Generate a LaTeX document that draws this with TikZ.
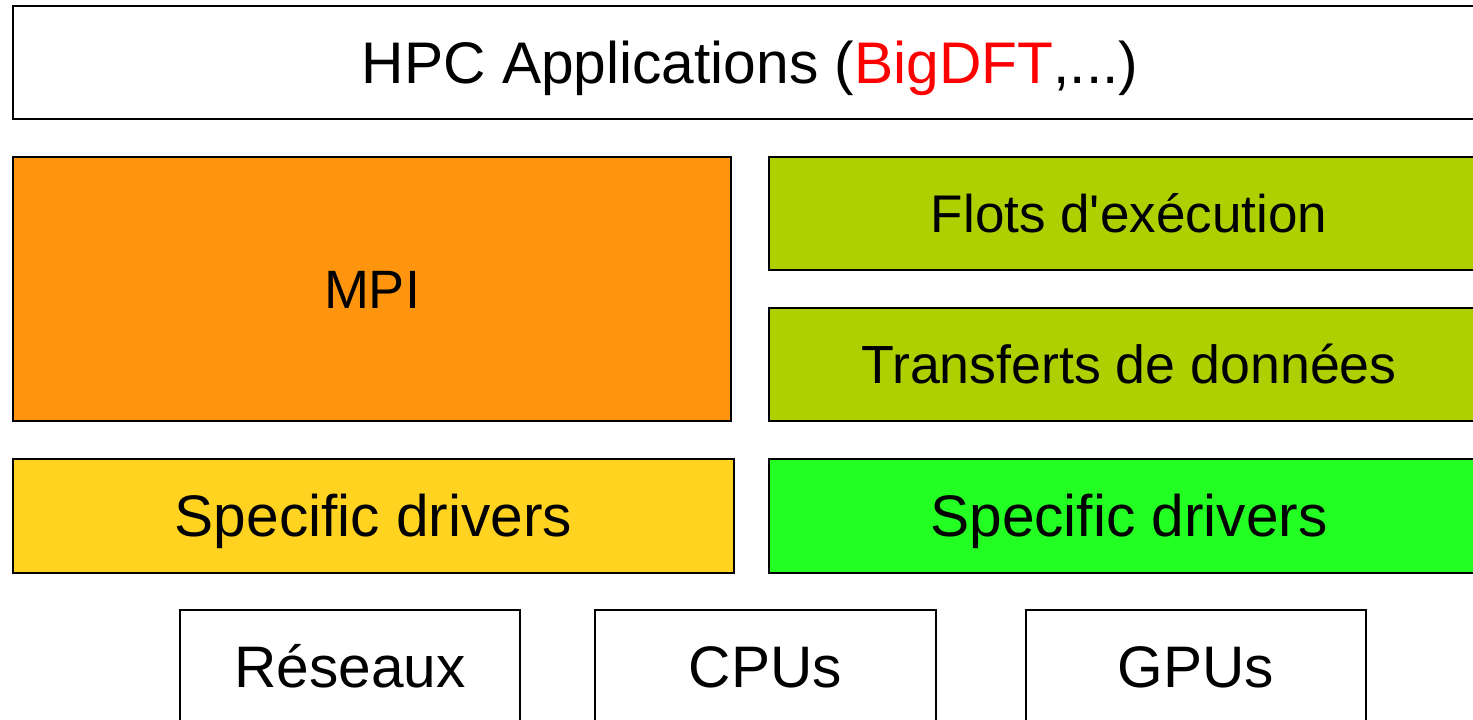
\documentclass[tikz,border=0pt]{standalone}
\usepackage{fontspec}
\setmainfont{Liberation Sans}
\definecolor{mpiorange}{HTML}{FF950E}
\definecolor{olivegreen}{HTML}{AECF00}
\definecolor{drvyellow}{HTML}{FFD320}
\definecolor{drvgreen}{HTML}{23FF23}
\definecolor{bigred}{HTML}{FF0000}
\tikzset{
  layer/.style={draw=black, line width=1.1pt, inner sep=0pt, outer sep=0pt,
    font=\fontsize{#1}{#1}\selectfont, text height={0.716*#1pt}, text depth=0pt,
    align=center},
  layer/.default=58.5,
}
\begin{document}
\begin{tikzpicture}[x=1pt, y=-1pt]
\useasboundingbox (0,0) rectangle (1473,720);
\clip (0,0) rectangle (1473,720);
\node[layer=58.7, fill=white, minimum width=1474pt, minimum height=113pt] (hpc) at (750,62.5)
  {HPC Applications (\textcolor{bigred}{BigDFT},...)};
\node[layer=54, fill=mpiorange, minimum width=718pt, minimum height=264pt] (mpi) at (372,289) {MPI};
\node[layer=53, fill=olivegreen, minimum width=720pt, minimum height=113pt] (flots) at (1129,213.5) {Flots d\textquotesingle exécution};
\node[layer=53.7, fill=olivegreen, minimum width=720pt, minimum height=113pt] (transf) at (1129,364.5) {Transferts de données};
\node[layer=58.6, fill=drvyellow, minimum width=721pt, minimum height=114pt] (drvl) at (373.5,516) {Specific drivers};
\node[layer=58.6, fill=drvgreen, minimum width=720pt, minimum height=114pt] (drvr) at (1129,516) {Specific drivers};
\node[layer=58.6, fill=white, minimum width=340pt, minimum height=114pt] (res) at (350,667) {Réseaux};
\node[layer=58.6, fill=white, minimum width=341pt, minimum height=114pt] (cpu) at (765.5,667) {CPUs};
\node[layer=58.6, fill=white, minimum width=340pt, minimum height=114pt] (gpu) at (1196,667) {GPUs};
\end{tikzpicture}
\end{document}
